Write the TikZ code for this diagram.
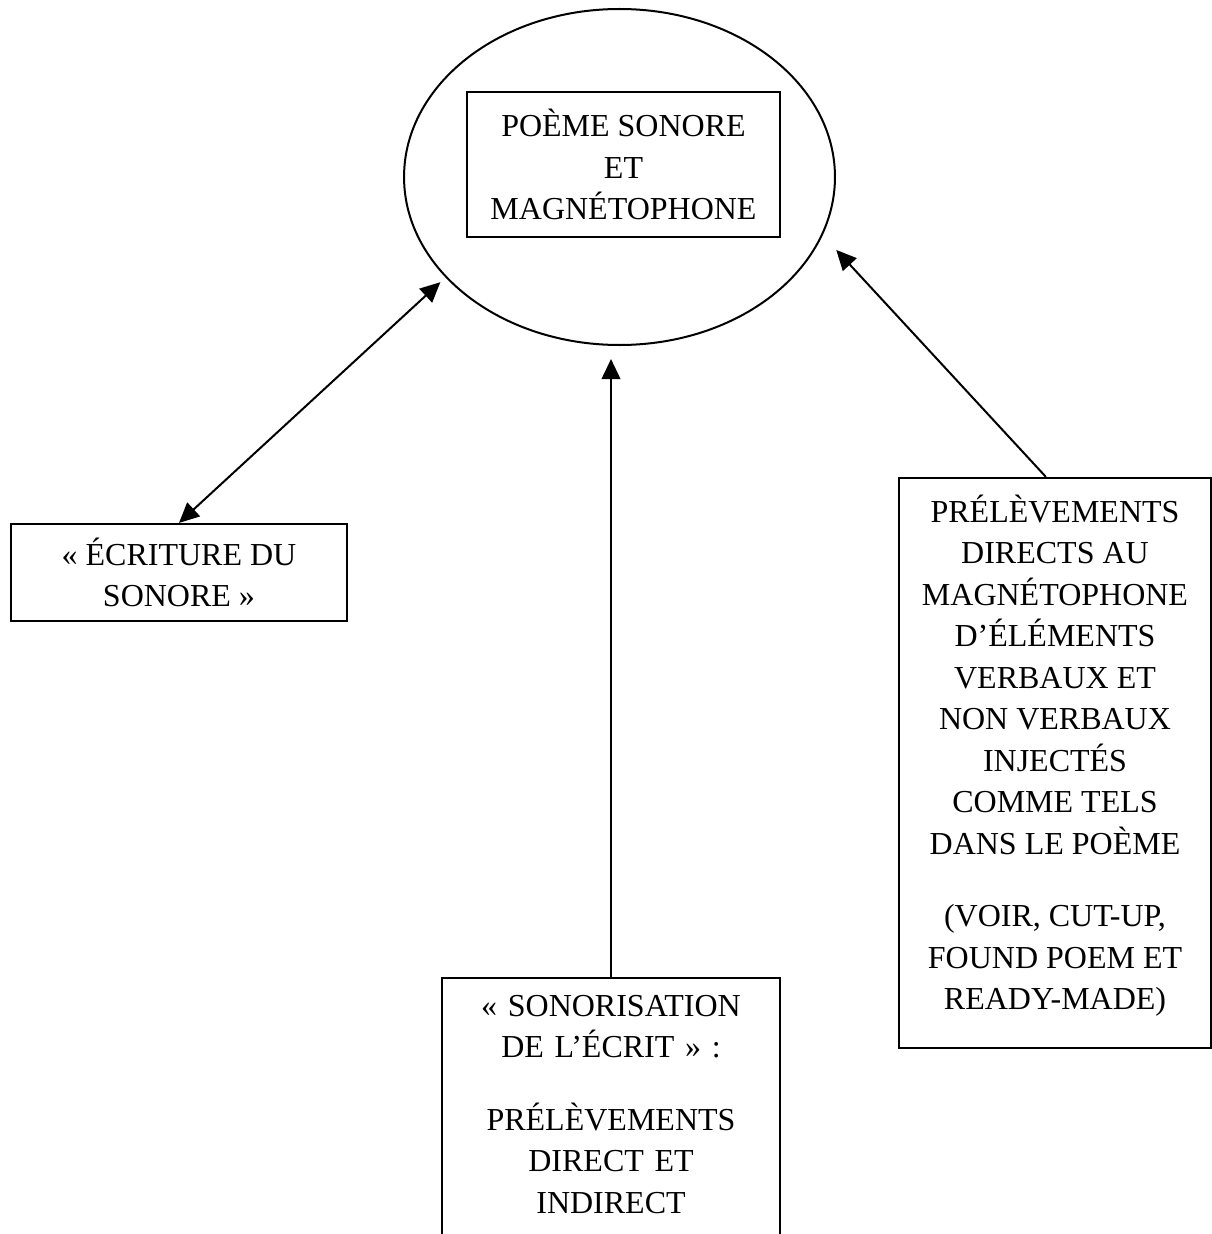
\documentclass[tikz,border=0pt]{standalone}
\usepackage{fontspec}
\setmainfont{Liberation Serif}
\usetikzlibrary{arrows.meta,shapes.geometric}
\tikzset{
  boite/.style={draw, line width=0.8pt, align=center, inner sep=0pt, font=\fontsize{12}{15.56}\selectfont},
}
\begin{document}
\begin{tikzpicture}[x=0.375pt, y=-0.375pt, >={Triangle[length=7.5pt,width=7pt]}, line width=0.75pt]
\useasboundingbox (0,0) rectangle (1212,1234);
\clip (0,0) rectangle (1212,1234);
\node[ellipse, draw, minimum width=161.6pt, minimum height=126pt, inner sep=0pt] (poeme) at (619.5,177) {};
\node[boite, minimum width=117.4pt, minimum height=54.4pt] (titre) at (623.5,164.5) {POÈME SONORE\\ET\\MAGNÉTOPHONE};
\node[boite, minimum width=126pt, minimum height=36.4pt] (sonore) at (179,572.5) {« ÉCRITURE DU\\SONORE »};
\node[boite, minimum width=117pt, minimum height=213.75pt] (prelev) at (1055,763) {PRÉLÈVEMENTS\\DIRECTS AU\\MAGNÉTOPHONE\\D’ÉLÉMENTS\\VERBAUX ET\\NON VERBAUX\\INJECTÉS\\COMME TELS\\DANS LE POÈME\\[11.6pt](VOIR, CUT-UP,\\FOUND POEM ET\\READY-MADE)\rule[-8pt]{0pt}{8pt}};
\node[boite, draw=none, text width=126pt, inner ysep=6pt, anchor=north] (ecrit) at (611,978) {« SONORISATION\\DE L’ÉCRIT » :\\[11.6pt]PRÉLÈVEMENTS\\DIRECT ET\\INDIRECT};
\draw[line width=0.8pt] ([yshift=-20pt]ecrit.south west) |- (ecrit.north east) -- ([yshift=-20pt]ecrit.south east);

\draw[<->, shorten >=2.6pt] (sonore.north) -- (poeme.210.8);
\draw[->] (ecrit.north) -- ([yshift=-4.9pt]ecrit.north |- poeme.south);
\draw[->, shorten >=7.5pt] ([xshift=-3.4pt]prelev.north) -- (poeme.344.9);
\end{tikzpicture}
\end{document}
